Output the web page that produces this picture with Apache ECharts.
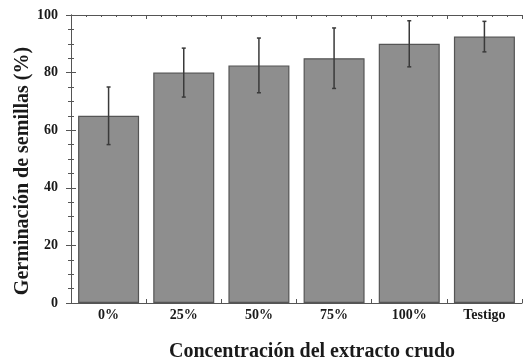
<!DOCTYPE html>
<html>
<head>
<meta charset="utf-8">
<script src="https://cdn.jsdelivr.net/npm/echarts@6/dist/echarts.min.js"></script>
<style>html,body{margin:0;padding:0;background:#fff}#c{width:524px;height:362px}</style>
</head>
<body>
<div id="c"></div>
<script>
const categories = ['0%', '25%', '50%', '75%', '100%', 'Testigo'];
const germination = [65, 80, 82.5, 85, 90, 92.5];
const errors = [10, 8.5, 9.5, 10.5, 8, 5.3];
const yTitle = 'Germinación de semillas (%)';
const xTitle = 'Concentración del extracto crudo';

const font = '"Liberation Serif", "DejaVu Serif", serif';
const frameColor = '#555';
const chart = echarts.init(document.getElementById('c'), null, {renderer: 'canvas'});

const frameValueX = (pos) => ({
  type: 'value', position: pos, min: 0, max: categories.length, interval: 1,
  axisLine: {show: true, lineStyle: {color: frameColor, width: 1}},
  axisTick: {show: true, inside: true, length: 4, lineStyle: {color: frameColor}},
  minorTick: {show: true, splitNumber: 5, length: 2, lineStyle: {color: frameColor}},
  axisLabel: {show: false}, splitLine: {show: false}
});

const option = {
  backgroundColor: '#fff',
  animation: false,
  grid: {left: 71, top: 15, width: 451, height: 288},
  graphic: [
    {type: 'text', x: 23, y: 171, rotation: Math.PI / 2, silent: true,
     style: {text: yTitle, align: 'center', verticalAlign: 'middle',
             font: 'bold 20px ' + font, fill: '#1a1a1a'}},
    {type: 'text', x: 312, y: 352, silent: true,
     style: {text: xTitle, align: 'center', verticalAlign: 'middle',
             font: 'bold 20px ' + font, fill: '#1a1a1a'}}
  ],
  xAxis: [
    {type: 'category', data: categories, position: 'bottom',
     axisLine: {show: false}, axisTick: {show: false},
     axisLabel: {margin: 5, fontFamily: font, fontWeight: 'bold', fontSize: 14, color: '#1a1a1a'}},
    frameValueX('bottom'),
    frameValueX('top')
  ],
  yAxis: [
    {type: 'value', position: 'left', min: 0, max: 100, interval: 20,
     axisLine: {show: true, lineStyle: {color: frameColor}},
     axisTick: {show: true, inside: true, length: 5, lineStyle: {color: frameColor}},
     minorTick: {show: true, splitNumber: 4, length: 3, lineStyle: {color: frameColor}},
     axisLabel: {margin: 13, fontFamily: font, fontWeight: 'bold', fontSize: 14, color: '#1a1a1a'},
     splitLine: {show: false}},
    {type: 'value', position: 'right', min: 0, max: 100, interval: 20,
     axisLine: {show: true, lineStyle: {color: frameColor}},
     axisTick: {show: true, inside: true, length: 5, lineStyle: {color: frameColor}},
     minorTick: {show: true, splitNumber: 4, length: 3, lineStyle: {color: frameColor}},
     axisLabel: {show: false}, splitLine: {show: false}}
  ],
  series: [
    {type: 'bar', data: germination, xAxisIndex: 0, yAxisIndex: 0, barWidth: 61,
     itemStyle: {color: '#8e8e8e', borderColor: '#555', borderWidth: 1.2}, z: 2},
    {type: 'custom', xAxisIndex: 0, yAxisIndex: 0, z: 5,
     data: germination.map((v, i) => [i, v, errors[i]]),
     renderItem: function (params, api) {
       const i = api.value(0), m = api.value(1), e = api.value(2);
       const top = api.coord([i, m + e]);
       const bot = api.coord([i, m - e]);
       const st = {stroke: '#3a3a3a', lineWidth: 1.5};
       return {type: 'group', children: [
         {type: 'line', shape: {x1: top[0], y1: top[1], x2: bot[0], y2: bot[1]}, style: st},
         {type: 'line', shape: {x1: top[0] - 2, y1: top[1], x2: top[0] + 2, y2: top[1]}, style: st},
         {type: 'line', shape: {x1: bot[0] - 2, y1: bot[1], x2: bot[0] + 2, y2: bot[1]}, style: st}
       ]};
     }}
  ]
};
chart.setOption(option);
</script>
</body>
</html>
